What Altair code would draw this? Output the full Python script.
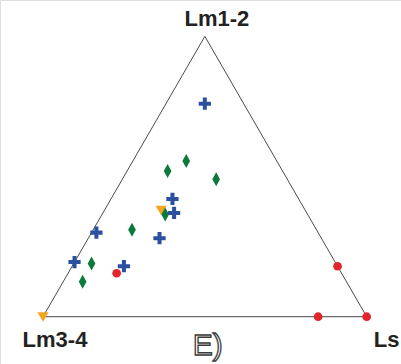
import math
import altair as alt
import pandas as pd

# Ternary compositions in percent: (Lm1-2, Lm3-4, Ls)
blue_cross = [
    (76, 12, 12), (42, 39, 19), (37, 41, 22), (30, 68.5, 1.5),
    (28, 50, 22), (19.5, 80.5, 0), (18, 66, 16),
]
green_diamond = [
    (52, 35.5, 12.5), (55.5, 28, 16.5), (49, 22, 29), (31, 57, 12),
    (36.5, 44, 19.5), (19, 75.5, 5.5), (12.5, 81.5, 6),
]
orange_triangle = [(38, 44.5, 17.5), (0, 100, 0)]
red_circle = [(15.5, 69.5, 15), (0, 15, 85), (0, 0, 100), (18, 0, 82)]

H = math.sqrt(3) / 2


def to_xy(comp):
    top, left, right = comp
    s = top + left + right
    a, c = top / s, right / s
    return a / 2 + c, a * H


def frame(points, group):
    rows = []
    for p in points:
        x, y = to_xy(p)
        rows.append({"x": x, "y": y, "group": group})
    return pd.DataFrame(rows)


xs = alt.Scale(domain=[-0.1328, 1.1060], nice=False, zero=False)
ys = alt.Scale(domain=[-0.1461, 0.9784], nice=False, zero=False)
X = alt.X("x:Q", scale=xs, axis=None)
Y = alt.Y("y:Q", scale=ys, axis=None)

# Triangle outline
verts = [(0, 100, 0), (0, 0, 100), (100, 0, 0)]
edges = []
for i in range(3):
    x1, y1 = to_xy(verts[i])
    x2, y2 = to_xy(verts[(i + 1) % 3])
    edges.append({"x": x1, "y": y1, "x2": x2, "y2": y2})
outline = alt.Chart(pd.DataFrame(edges)).mark_rule(
    color="#4a4a4a", strokeWidth=1
).encode(x=X, y=Y, x2="x2:Q", y2="y2:Q")

CROSS = "M-1,-0.33H-0.33V-1H0.33V-0.33H1V0.33H0.33V1H-0.33V0.33H-1Z"
DIAMOND = "M0,-1L0.55,0L0,1L-0.55,0Z"
TRI_DOWN = "M-1,-0.8L1,-0.8L0,0.9Z"


def points(df, shape, color, size):
    return alt.Chart(df).mark_point(
        shape=shape, filled=True, fill=color, color=color,
        opacity=1, size=size, strokeWidth=0
    ).encode(x=X, y=Y)


tri = points(frame(orange_triangle, "tri"), TRI_DOWN, "#f2a51f", 125)
red = points(frame(red_circle, "red"), "circle", "#e2242b", 76)
green = points(frame(green_diamond, "green"), DIAMOND, "#0b7a3b", 196)
blue = points(frame(blue_cross, "blue"), CROSS, "#2c50a0", 150)

# Vertex labels
lab_rows = []
for name, comp, dx, dy, align in [
    ("Lm1-2", (100, 0, 0), 12, -10, "center"),
    ("Lm3-4", (0, 100, 0), 12, 30.5, "center"),
    ("Ls", (0, 0, 100), 7, 30.5, "left"),
]:
    x, y = to_xy(comp)
    lab_rows.append({"x": x, "y": y, "label": name, "dx": dx, "dy": dy, "align": align})

label_layers = []
for r in lab_rows:
    label_layers.append(
        alt.Chart(pd.DataFrame([r])).mark_text(
            font="Liberation Sans", fontSize=22, fontWeight="bold",
            color="#222222", align=r["align"], baseline="alphabetic",
            dx=r["dx"], dy=r["dy"]
        ).encode(x=X, y=Y, text="label:N")
    )

panel = alt.Chart(pd.DataFrame([{"x": 0.5, "y": 0.0, "label": "E)"}])).mark_text(
    font="Liberation Sans", fontSize=30, fontWeight="normal",
    fill="white", stroke="#3a3a3a", strokeWidth=1.3,
    align="center", baseline="alphabetic", dx=3, dy=38
).encode(x=X, y=Y, text="label:N")

chart = alt.layer(outline, tri, red, green, blue, *label_layers, panel).properties(
    width=401, height=364,
    autosize=alt.AutoSizeParams(type="none"),
    padding=0,
).configure_view(stroke=None).configure(background="white")

chart.save("out.html", embed_options={"renderer": "svg", "actions": False})
